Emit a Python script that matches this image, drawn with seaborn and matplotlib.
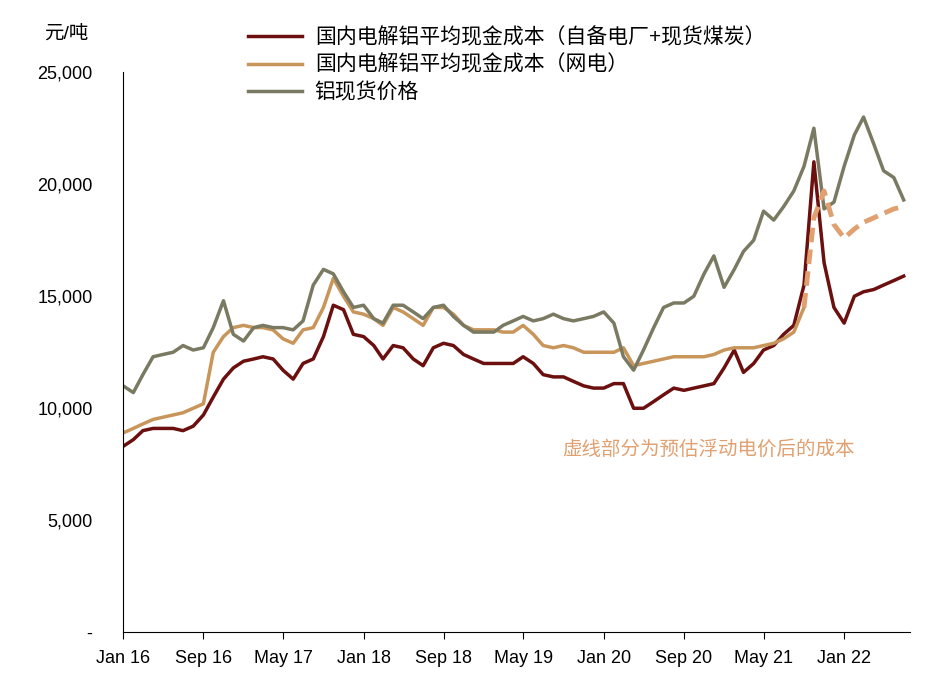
import pandas as pd
import numpy as np
import matplotlib
matplotlib.use("Agg")
import matplotlib.pyplot as plt
import matplotlib.dates as mdates
from matplotlib.ticker import FuncFormatter
import seaborn as sns

plt.rcParams['font.family'] = ['Liberation Sans', 'Noto Sans CJK SC']

dates = pd.date_range('2016-01-01', periods=79, freq='MS')
cost_self = [8300,8600,9000,9100,9100,9100,9000,9200,9700,10500,11300,11800,
             12100,12200,12300,12200,11700,11300,12000,12200,13200,14600,14400,13300,
             13200,12800,12200,12800,12700,12200,11900,12700,12900,12800,12400,12200,
             12000,12000,12000,12000,12300,12000,11500,11400,11400,11200,11000,10900,
             10900,11100,11100,10000,10000,10300,10600,10900,10800,10900,11000,11100,
             11800,12600,11600,12000,12600,12800,13300,13700,15500,21000,16500,14500,
             13800,15000,15200,15300,15500,15700,15900]
cost_grid = [8900,9100,9300,9500,9600,9700,9800,10000,10200,12500,13200,13600,
             13700,13600,13600,13500,13100,12900,13500,13600,14500,15800,15000,14300,
             14200,14000,13700,14500,14300,14000,13700,14500,14500,14200,13700,13500,
             13500,13500,13400,13400,13700,13300,12800,12700,12800,12700,12500,12500,
             12500,12500,12700,11900,12000,12100,12200,12300,12300,12300,12300,12400,
             12600,12700,12700,12700,12800,12900,13100,13400,14500,18500,19700,18200,
             17600,18000,18300,18500,18700,18900,19000]
spot = [11000,10700,11500,12300,12400,12500,12800,12600,12700,13600,14800,13300,
        13000,13600,13700,13600,13600,13500,13900,15500,16200,16000,15200,14500,
        14600,14000,13800,14600,14600,14300,14000,14500,14600,14100,13700,13400,
        13400,13400,13700,13900,14100,13900,14000,14200,14000,13900,14000,14100,
        14300,13800,12300,11700,12600,13600,14500,14700,14700,15000,16000,16800,
        15400,16200,17000,17500,18800,18400,19000,19700,20800,22500,18900,19200,
        20800,22200,23000,21800,20600,20300,19300]
labels = ['国内电解铝平均现金成本（自备电厂+现货煤炭）', '国内电解铝平均现金成本（网电）', '铝现货价格']
dash_start = 68  # Sep 2021

df = pd.DataFrame({'date': dates, 'self': cost_self, 'grid': cost_grid, 'spot': spot})

fig = plt.figure(figsize=(9.4, 6.88), dpi=100)
ax = fig.add_axes([0.131, 0.081, 0.837, 0.814])
c_self, c_grid, c_spot = '#6b0f0f', '#c8955a', '#7a7a62'
sns.lineplot(data=df, x='date', y='self', ax=ax, color=c_self, lw=2.5, label=labels[0])
sns.lineplot(data=df.iloc[:dash_start+1], x='date', y='grid', ax=ax, color=c_grid, lw=2.5, label=labels[1])
sns.lineplot(data=df, x='date', y='spot', ax=ax, color=c_spot, lw=2.5, label=labels[2])
sns.lineplot(data=df.iloc[dash_start:], x='date', y='grid', ax=ax, color='#e0a070', lw=3.5, ls=(0, (3, 1.5)))

ax.set_ylim(0, 25000)
ax.set_xlim(pd.Timestamp('2016-01-01'), pd.Timestamp('2022-07-20'))
ticks = pd.date_range('2016-01-01', '2022-01-01', freq='8MS')
ax.set_xticks(ticks)
ax.set_xticklabels([d.strftime('%b %y') for d in ticks], fontsize=13)
ax.set_yticks(range(0, 25001, 5000))
ax.yaxis.set_major_formatter(FuncFormatter(lambda v, p: '-' if v == 0 else f'{int(v):,}'))
ax.tick_params(axis='y', labelsize=13, length=0, pad=22)
ax.tick_params(axis='x', direction='out', length=5, pad=8)
for s in ['top', 'right']:
    ax.spines[s].set_visible(False)
ax.set_xlabel(''); ax.set_ylabel('')
ax.text(-0.1, 1.06, '元/吨', transform=ax.transAxes, fontsize=14)
ax.text(pd.Timestamp('2020-11-15'), 7900, '虚线部分为预估浮动电价后的成本', color='#e0a070',
        fontsize=14, style='italic', ha='center')
ax.legend(loc='upper left', bbox_to_anchor=(0.135, 1.115), frameon=False, fontsize=15,
          handlelength=2.6, labelspacing=0.35, handletextpad=0.6)
fig.savefig('out.png', dpi=100)
